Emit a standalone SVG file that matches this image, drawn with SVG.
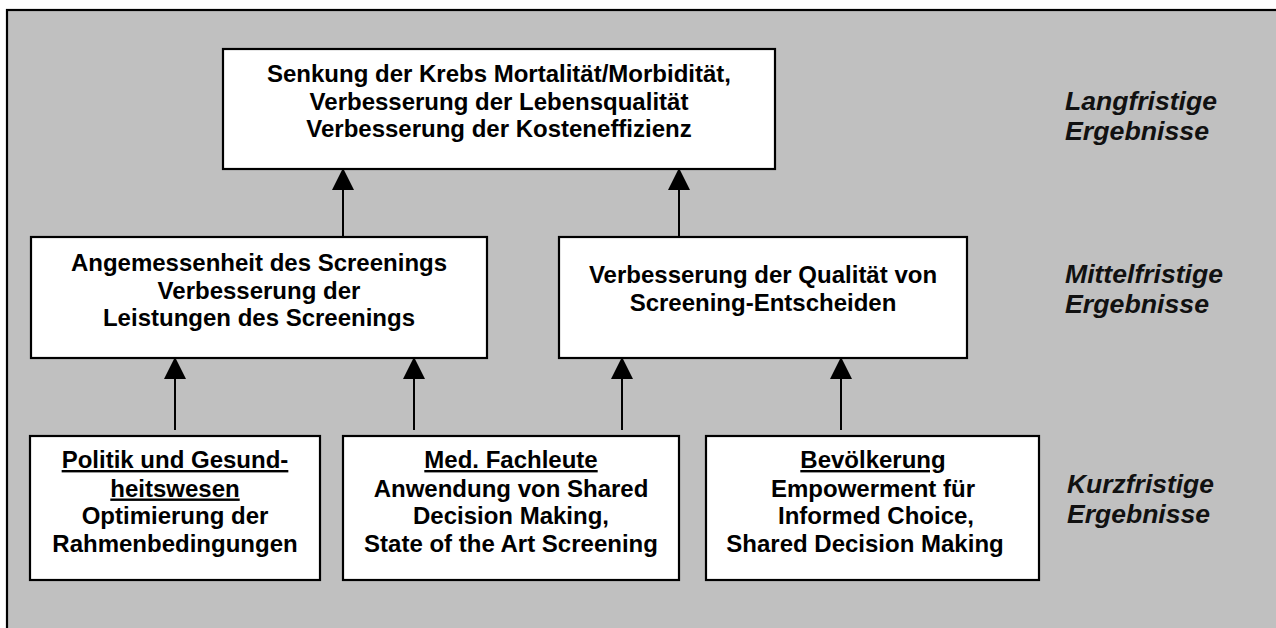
<svg xmlns="http://www.w3.org/2000/svg" width="1276" height="628" viewBox="0 0 1276 628">
<defs>
<marker id="ah" markerUnits="userSpaceOnUse" markerWidth="22" markerHeight="22" viewBox="0 0 20 20" refX="20" refY="10" orient="auto">
<path d="M0,0 L20,10 L0,20 Z" fill="#000"/>
</marker>
<style>
.box{fill:#fff;stroke:#000;stroke-width:2.2}
.t{font-family:"Liberation Sans",Arial,sans-serif;font-weight:bold;font-size:24px;fill:#000;text-anchor:middle}
.u{text-decoration:underline}
.lbl{font-family:"Liberation Sans",Arial,sans-serif;font-weight:bold;font-style:italic;font-size:26px;fill:#111}
.c{stroke:#000;stroke-width:2;fill:none;marker-end:url(#ah)}
</style>
</defs>
<rect x="0" y="0" width="1276" height="628" fill="#fff"/>
<rect x="7" y="10" width="1300" height="700" fill="#c0c0c0" stroke="#000" stroke-width="2.2"/>

<g id="connectors">
<line class="c" x1="343" y1="237" x2="343" y2="168"/>
<line class="c" x1="679" y1="238" x2="679" y2="168"/>
<line class="c" x1="175" y1="430" x2="175" y2="357"/>
<line class="c" x1="414" y1="430" x2="414" y2="357"/>
<line class="c" x1="622" y1="430" x2="622" y2="357"/>
<line class="c" x1="841" y1="430" x2="841" y2="357"/>
</g>

<g id="n-top">
<rect class="box" x="223" y="49" width="552" height="120"/>
<text class="t" x="499" y="82">Senkung der Krebs Mortalität/Morbidität,</text>
<text class="t" x="499" y="109.5">Verbesserung der Lebensqualität</text>
<text class="t" x="499" y="137">Verbesserung der Kosteneffizienz</text>
</g>

<g id="n-mid-left">
<rect class="box" x="31" y="237" width="456" height="121"/>
<text class="t" x="259" y="271">Angemessenheit des Screenings</text>
<text class="t" x="259" y="298.5">Verbesserung der</text>
<text class="t" x="259" y="326">Leistungen des Screenings</text>
</g>

<g id="n-mid-right">
<rect class="box" x="559" y="237" width="408" height="121"/>
<text class="t" x="763" y="283">Verbesserung der Qualität von</text>
<text class="t" x="763" y="310.5">Screening-Entscheiden</text>
</g>

<g id="n-bot-left">
<rect class="box" x="30" y="436" width="290" height="144"/>
<text class="t u" x="175" y="468">Politik und Gesund-</text>
<text class="t u" x="175" y="496.5">heitswesen</text>
<text class="t" x="175" y="524">Optimierung der</text>
<text class="t" x="175" y="552">Rahmenbedingungen</text>
</g>

<g id="n-bot-mid">
<rect class="box" x="343" y="436" width="336" height="144"/>
<text class="t u" x="511" y="468">Med. Fachleute</text>
<text class="t" x="511" y="496.5">Anwendung von Shared</text>
<text class="t" x="511" y="524">Decision Making,</text>
<text class="t" x="511" y="552">State of the Art Screening</text>
</g>

<g id="n-bot-right">
<rect class="box" x="706" y="436" width="333" height="144"/>
<text class="t u" x="873" y="468">Bevölkerung</text>
<text class="t" x="873" y="496.5">Empowerment für</text>
<text class="t" x="876" y="524">Informed Choice,</text>
<text class="t" x="865" y="552">Shared Decision Making</text>
</g>

<g id="labels">
<text class="lbl" x="1065" y="110" textLength="152" lengthAdjust="spacingAndGlyphs">Langfristige</text>
<text class="lbl" x="1065" y="140" textLength="144" lengthAdjust="spacingAndGlyphs">Ergebnisse</text>
<text class="lbl" x="1065" y="283" textLength="158" lengthAdjust="spacingAndGlyphs">Mittelfristige</text>
<text class="lbl" x="1065" y="313" textLength="144" lengthAdjust="spacingAndGlyphs">Ergebnisse</text>
<text class="lbl" x="1067" y="493" textLength="147" lengthAdjust="spacingAndGlyphs">Kurzfristige</text>
<text class="lbl" x="1067" y="523" textLength="143" lengthAdjust="spacingAndGlyphs">Ergebnisse</text>
</g>
</svg>
